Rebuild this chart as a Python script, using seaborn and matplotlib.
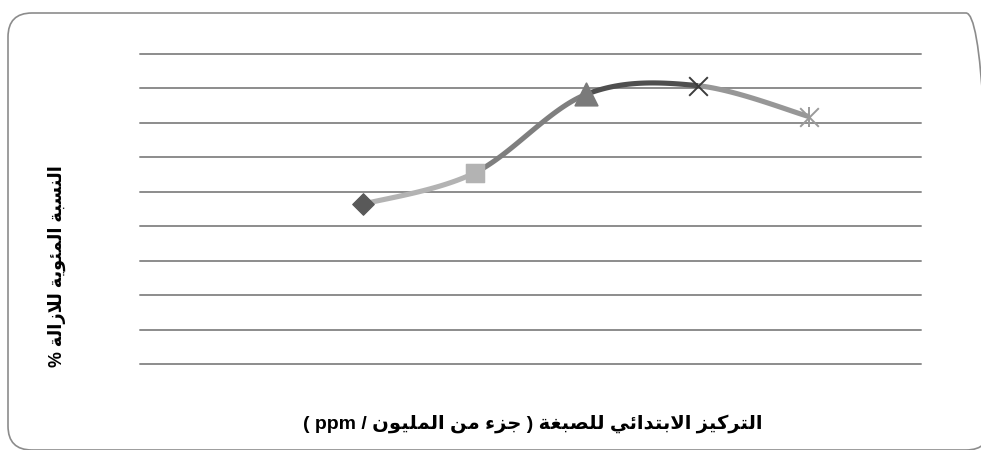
import re
import numpy as np
import pandas as pd
import matplotlib
matplotlib.use("Agg")
import matplotlib.pyplot as plt
from matplotlib.patches import FancyBboxPatch
from matplotlib.transforms import IdentityTransform
import seaborn as sns

# ---- data -------------------------------------------------------------
concentration = [20, 30, 40, 50, 60]          # initial dye concentration (ppm)
removal_pct = [46.4, 55.5, 78.3, 80.8, 71.8]  # removal efficiency (%)
marker_shapes = ["D", "s", "^", "x", "asterisk"]
marker_colors = ["#595959", "#b3b3b3", "#7a7a7a", "#3c3c3c", "#9a9a9a"]
segment_colors = ["#b3b3b3", "#7f7f7f", "#4f4f4f", "#979797"]
y_ticks = list(range(0, 100, 10))

x_label = "التركيز الابتدائي للصبغة ( جزء من المليون / ppm )"
y_label = "النسبة المئوية للازالة %"

# ---- minimal Arabic shaping (presentation forms, visual order) --------
FORMS = {
    "\u0621": ("\uFE80", None, None, None),
    "\u0626": ("\uFE89", "\uFE8A", "\uFE8B", "\uFE8C"),
    "\u0627": ("\uFE8D", "\uFE8E", None, None),
    "\u0628": ("\uFE8F", "\uFE90", "\uFE91", "\uFE92"),
    "\u0629": ("\uFE93", "\uFE94", None, None),
    "\u062A": ("\uFE95", "\uFE96", "\uFE97", "\uFE98"),
    "\u062C": ("\uFE9D", "\uFE9E", "\uFE9F", "\uFEA0"),
    "\u062F": ("\uFEA9", "\uFEAA", None, None),
    "\u0631": ("\uFEAD", "\uFEAE", None, None),
    "\u0632": ("\uFEAF", "\uFEB0", None, None),
    "\u0633": ("\uFEB1", "\uFEB2", "\uFEB3", "\uFEB4"),
    "\u0635": ("\uFEB9", "\uFEBA", "\uFEBB", "\uFEBC"),
    "\u063A": ("\uFECD", "\uFECE", "\uFECF", "\uFED0"),
    "\u0643": ("\uFED9", "\uFEDA", "\uFEDB", "\uFEDC"),
    "\u0644": ("\uFEDD", "\uFEDE", "\uFEDF", "\uFEE0"),
    "\u0645": ("\uFEE1", "\uFEE2", "\uFEE3", "\uFEE4"),
    "\u0646": ("\uFEE5", "\uFEE6", "\uFEE7", "\uFEE8"),
    "\u0648": ("\uFEED", "\uFEEE", None, None),
    "\u064A": ("\uFEF1", "\uFEF2", "\uFEF3", "\uFEF4"),
    "LA": ("\uFEFB", "\uFEFC", None, None),
}


def shape_word(word):
    units, i = [], 0
    while i < len(word):
        if word[i] == "\u0644" and i + 1 < len(word) and word[i + 1] == "\u0627":
            units.append("LA")
            i += 2
        else:
            units.append(word[i])
            i += 1
    out = []
    for k, u in enumerate(units):
        f = FORMS.get(u)
        if f is None:
            out.append(u)
            continue
        prev = k > 0 and FORMS.get(units[k - 1], (None,) * 4)[2] is not None and f[1] is not None
        nxt = k + 1 < len(units) and f[2] is not None and FORMS.get(units[k + 1], (None,) * 4)[1] is not None
        if prev and nxt:
            out.append(f[3])
        elif prev:
            out.append(f[1])
        elif nxt:
            out.append(f[2])
        else:
            out.append(f[0])
    return "".join(reversed(out))


def rtl(text):
    mirror = {"(": ")", ")": "("}
    tokens = re.findall(r"[\u0600-\u06FF]+|[A-Za-z0-9]+|.", text)
    vis = []
    for t in reversed(tokens):
        if re.match(r"[\u0600-\u06FF]", t):
            vis.append(shape_word(t))
        else:
            vis.append(mirror.get(t, t))
    return "".join(vis)


# ---- smooth curve (Catmull-Rom / Bezier as in office charts) ----------
def smooth_segments(xs, ys, n=40):
    p = np.column_stack([xs, ys]).astype(float)
    ext = np.vstack([p[0], p, p[-1]])
    segs = []
    t = np.linspace(0, 1, n)[:, None]
    for i in range(len(p) - 1):
        p0, p1, p2, p3 = ext[i], ext[i + 1], ext[i + 2], ext[i + 3]
        c1 = p1 + (p2 - p0) / 6.0
        c2 = p2 - (p3 - p1) / 6.0
        b = ((1 - t) ** 3) * p1 + 3 * ((1 - t) ** 2) * t * c1 + 3 * (1 - t) * t ** 2 * c2 + t ** 3 * p2
        segs.append(b)
    return segs


sns.set_theme(style="white")
plt.rcParams["font.family"] = ["Liberation Sans", "DejaVu Sans"]

fig = plt.figure(figsize=(9.81, 4.5), dpi=100)
W, H = 981, 450
ax = fig.add_axes([140 / W, 1 - 364 / H, (921 - 140) / W, (364 - 54) / H])
ax.set_xlim(0, 70)
ax.set_ylim(0, 90)
ax.set_yticks(y_ticks)
ax.set_xticks([])
ax.tick_params(left=False, bottom=False, labelleft=False, labelbottom=False)
for s in ax.spines.values():
    s.set_visible(False)
ax.grid(axis="y", color="#8c8c8c", linewidth=1.4)
for gl in ax.get_ygridlines():
    gl.set_clip_on(False)
ax.set_axisbelow(True)

segs = smooth_segments(concentration, removal_pct)
rows = []
for i, seg in enumerate(segs):
    for x, y in seg:
        rows.append({"x": x, "y": y, "seg": f"s{i}"})
curve = pd.DataFrame(rows)
sns.lineplot(data=curve, x="x", y="y", hue="seg", sort=False, estimator=None,
             palette=dict(zip([f"s{i}" for i in range(len(segs))], segment_colors)),
             linewidth=3.7, legend=False, ax=ax, solid_capstyle="butt")

pts = pd.DataFrame({"x": concentration, "y": removal_pct})
for i, (m, c) in enumerate(zip(marker_shapes, marker_colors)):
    one = pts.iloc[[i]]
    if m == "D":
        sns.scatterplot(data=one, x="x", y="y", marker="D", s=120, color=c, edgecolor=c, ax=ax, zorder=5)
    elif m == "s":
        sns.scatterplot(data=one, x="x", y="y", marker="s", s=180, color=c, edgecolor=c, ax=ax, zorder=5)
    elif m == "^":
        sns.scatterplot(data=one, x="x", y="y", marker="^", s=260, color=c, edgecolor=c, ax=ax, zorder=5)
    elif m == "x":
        sns.scatterplot(data=one, x="x", y="y", marker="x", s=180, color=c, linewidth=1.4, ax=ax, zorder=5)
    else:
        sns.scatterplot(data=one, x="x", y="y", marker="x", s=180, color=c, linewidth=1.4, ax=ax, zorder=5)
        sns.scatterplot(data=one, x="x", y="y", marker="|", s=200, color=c, linewidth=1.4, ax=ax, zorder=5)
ax.set_xlabel("")
ax.set_ylabel("")

fig.text(533 / W, 1 - 424 / H, rtl(x_label), ha="center", va="center",
         fontsize=14, fontweight="bold", color="black")
fig.text(57 / W, 1 - 266 / H, rtl(y_label), ha="center", va="center",
         rotation=90, fontsize=12.8, fontweight="bold", color="black")

frame = FancyBboxPatch((8, 0), 982, 437, boxstyle="round,pad=0,rounding_size=24",
                       transform=IdentityTransform(), facecolor="none",
                       edgecolor="#8c8c8c", linewidth=1.2, clip_on=False)
fig.patches.append(frame)

fig.savefig("out.png", dpi=100)
